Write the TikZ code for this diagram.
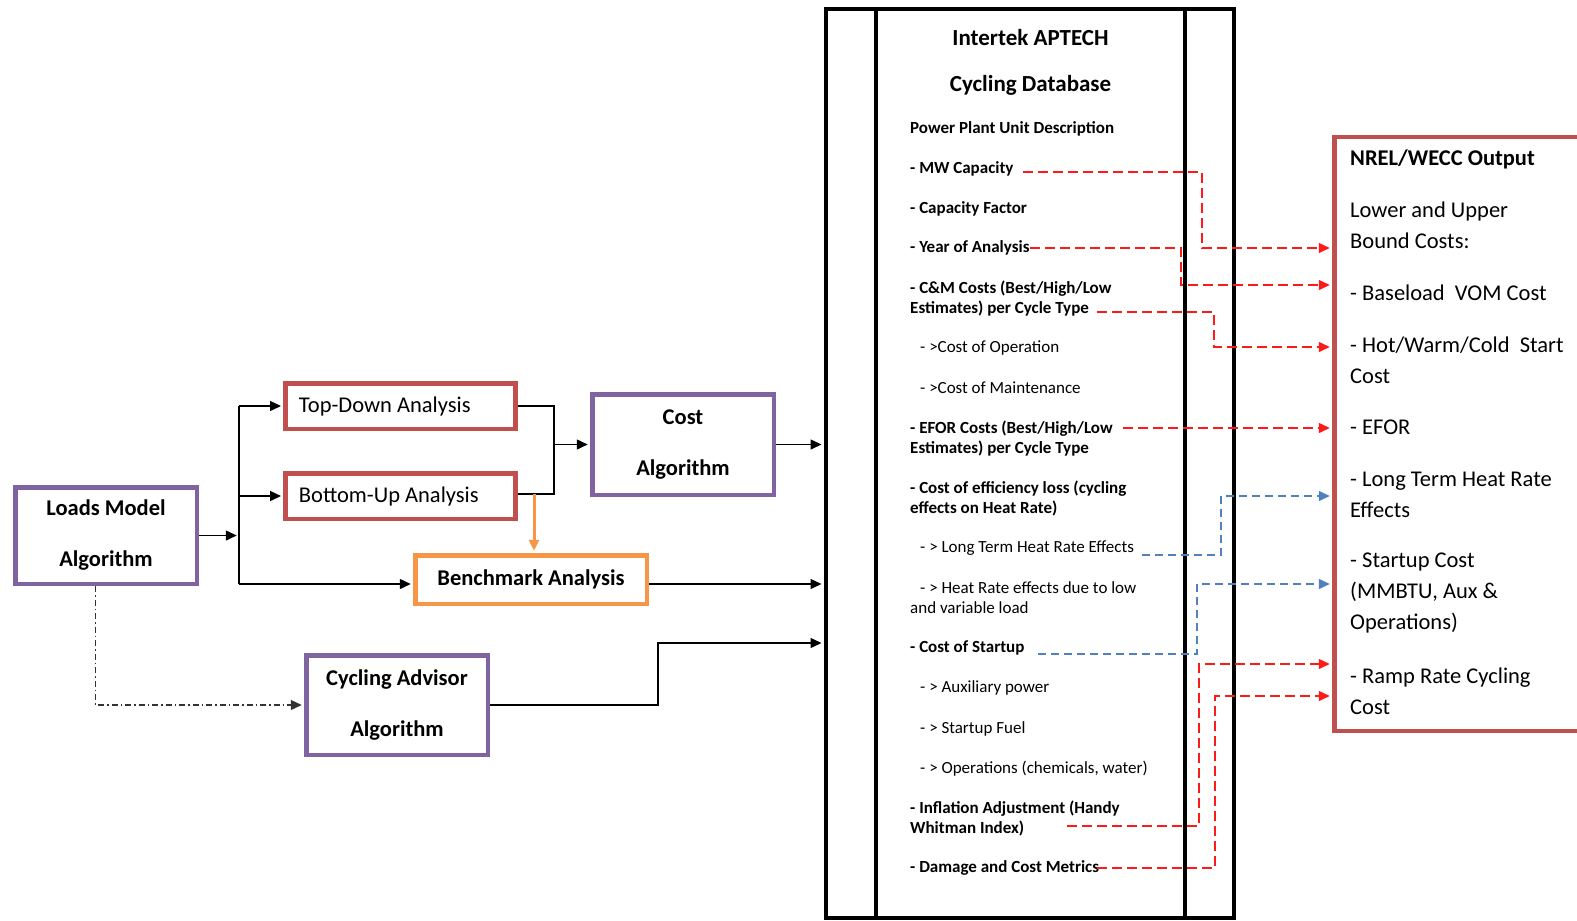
\documentclass[tikz,border=0pt]{standalone}
\usepackage{fontspec}
\setmainfont{Carlito}
\usetikzlibrary{arrows.meta,calc}
\definecolor{boxpurple}{HTML}{8064A2}
\definecolor{boxred}{HTML}{C0504D}
\definecolor{boxorange}{HTML}{F79646}
\definecolor{dashred}{HTML}{FF1A1A}
\definecolor{dashblue}{HTML}{4F81BD}
\tikzset{
  pbox/.style={draw=boxpurple, line width=4.5pt, inner sep=0pt, align=center, font=\fontsize{22.5pt}{51pt}\selectfont\bfseries},
  rbox/.style={draw=boxred, line width=4.5pt, inner sep=0pt},
  rtxt/.style={anchor=west, inner sep=0pt, font=\fontsize{22.5pt}{26pt}\selectfont},
  obox/.style={draw=boxorange, line width=4.5pt, inner sep=0pt, align=center, font=\fontsize{22.5pt}{26pt}\selectfont\bfseries},
  frame/.style={draw=black, line width=4.5pt, inner sep=0pt},
  dbtitle/.style={inner sep=0pt, font=\fontsize{23pt}{26pt}\selectfont\bfseries},
  dbbold/.style={anchor=west, inner sep=0pt, align=left, font=\fontsize{17pt}{20pt}\selectfont\bfseries},
  dbreg/.style={anchor=west, inner sep=0pt, align=left, font=\fontsize{17pt}{20pt}\selectfont},
  outtxt/.style={anchor=west, inner sep=0pt, align=left, font=\fontsize{22.5pt}{31pt}\selectfont},
  tip/.style={-{Triangle[length=11pt,width=10pt]}},
  conn/.style={draw=black, line width=1.4pt},
  conna/.style={conn, tip, shorten >=2.25pt},
  orangea/.style={draw=boxorange, line width=3pt, -{Triangle[length=11pt,width=10pt]}, shorten >=2.25pt},
  dashdota/.style={draw=black!80, line width=1.2pt, dash pattern=on 6pt off 3pt on 1.5pt off 3pt, tip, shorten >=2.25pt},
  reddash/.style={draw=dashred, line width=1.5pt, dash pattern=on 10pt off 5pt, tip, shorten >=2.25pt},
  bluedash/.style={draw=dashblue, line width=1.5pt, dash pattern=on 8pt off 5pt, tip, shorten >=2.25pt},
}
\begin{document}
\begin{tikzpicture}[x=1pt,y=-1pt]
\useasboundingbox (0,0) rectangle (1577,921);
\clip (0,0) rectangle (1577,921);
\fill[white] (0,0) rectangle (1577,921);

% left boxes
\node[pbox, minimum width=181.5pt, minimum height=96.5pt] (loads) at (106,535.5) {Loads Model\\Algorithm};
\node[rbox, minimum width=230pt, minimum height=45.5pt] (td) at (400.5,406) {};
\node[rtxt] (tdt) at ([xshift=15.5pt]td.west) {Top-Down Analysis};
\node[rbox, minimum width=230pt, minimum height=45.5pt] (bu) at (400.5,496) {};
\node[rtxt] (but) at ([xshift=15.5pt]bu.west) {Bottom-Up Analysis};
\node[pbox, minimum width=181.5pt, minimum height=100.5pt] (cost) at (683,444.5) {Cost\\Algorithm};
\node[obox, minimum width=231.5pt, minimum height=48.5pt] (bench) at (531,579.5) {Benchmark Analysis};
\node[pbox, minimum width=181.5pt, minimum height=99.5pt] (cyc) at (397,705) {Cycling Advisor\\Algorithm};

% database frame
\node[frame, minimum width=408pt, minimum height=909pt] (db) at (1030,463.5) {};
\node[frame, minimum width=309pt, minimum height=909pt] (dbin) at (1030.5,463.5) {};

% output box
\node[draw=boxred, line width=4.5pt, inner sep=0pt, minimum width=300pt, minimum height=594pt, anchor=north west] (out) at (1332,134.5) {};

% helper coordinates
\coordinate (busx) at (239,0);
\coordinate (mx) at (554,0);
\coordinate (ox) at (534,0);
\coordinate (bmin) at ([yshift=-4.5pt]bench.west);
\coordinate (bmout) at ([yshift=-4.5pt]bench.east);
\coordinate (cx) at (658,643);
\coordinate (ddx) at (95.5,0);

% left connectors
\draw[conna] (loads.east) -- (loads.east -| busx);
\draw[conn] (busx |- td.west) -- (busx |- bmin);
\draw[conna] (busx |- td.west) -- (td.west);
\draw[conna] (busx |- bu.west) -- (bu.west);
\draw[conna] (busx |- bmin) -- (bmin);
\draw[conn] (td.east) -- (td.east -| mx) -- ([yshift=2pt]bu.east -| mx) -- ([yshift=2pt]bu.east);
\draw[conna] (cost.west -| mx) -- (cost.west);
\draw[orangea] ([yshift=2pt]bu.east -| ox) -- (bench.north -| ox);
\draw[conna] (cost.east) -- (cost.east -| db.west);
\draw[conna] (bmout) -- (bmout -| db.west);
\draw[conna] (cyc.east) -| (cx) -- (cx -| db.west);
\draw[dashdota] (loads.south -| ddx) |- (cyc.west);

% database texts
\node[dbtitle] (t1) at (1030.5,38) {Intertek APTECH};
\node[dbtitle] (t2) at (1030.5,85) {Cycling Database};
\node[dbbold] (i0) at (910,129) {Power Plant Unit Description};
\node[dbbold] (i1) at (910,169) {- MW Capacity};
\node[dbbold] (i2) at (910,209) {- Capacity Factor};
\node[dbbold] (i3) at (910,248) {- Year of Analysis};
\node[dbbold] (i4) at (910,299) {- C\&M Costs (Best/High/Low\\Estimates) per Cycle Type};
\node[dbreg] (i5) at (920,348) {- >Cost of Operation};
\node[dbreg] (i6) at (920,388) {- >Cost of Maintenance};
\node[dbbold] (i7) at (910,438.5) {- EFOR Costs (Best/High/Low\\Estimates) per Cycle Type};
\node[dbbold] (i8) at (910,498.5) {- Cost of efficiency loss (cycling\\effects on Heat Rate)};
\node[dbreg] (i9) at (920,548) {- > Long Term Heat Rate Effects};
\node[dbreg] (i10) at (920,588) {- > Heat Rate effects due to low};
\node[dbreg] (i10b) at (910,608) {and variable load};
\node[dbbold] (i11) at (910,648) {- Cost of Startup};
\node[dbreg] (i12) at (920,688) {- > Auxiliary power};
\node[dbreg] (i13) at (920,729) {- > Startup Fuel};
\node[dbreg] (i14) at (920,769) {- > Operations (chemicals, water)};
\node[dbbold] (i15) at (910,818) {- Inflation Adjustment (Handy\\Whitman Index)};
\node[dbbold] (i16) at (910,868) {- Damage and Cost Metrics};

% output texts
\node[outtxt, font=\fontsize{22.5pt}{31pt}\selectfont\bfseries] (o0) at (1350,159) {NREL/WECC Output};
\node[outtxt] (o1) at (1350,225.5) {Lower and Upper\\Bound Costs:};
\node[outtxt] (o2) at (1350,293) {- Baseload\ \ VOM Cost};
\node[outtxt] (o3) at (1350,360.5) {- Hot/Warm/Cold\ \ Start\\Cost};
\node[outtxt] (o4) at (1350,427) {- EFOR};
\node[outtxt] (o5) at (1350,494.5) {- Long Term Heat Rate\\Effects};
\node[outtxt] (o6) at (1350,593.5) {- Startup Cost\\(MMBTU, Aux \&\\Operations)};
\node[outtxt] (o7) at (1350,691.5) {- Ramp Rate Cycling\\Cost};

% dashed connectors
\coordinate (r1s) at (1023,172);   \coordinate (r1c) at (1202,248);
\coordinate (r2s) at (1030,248);   \coordinate (r2c) at (1181,285);
\coordinate (r3s) at (1097,312);   \coordinate (r3c) at (1214,347);
\coordinate (r4s) at (1123,428);
\coordinate (b1s) at (1142,555);   \coordinate (b1c) at (1221,496);
\coordinate (b2s) at (1038,654);   \coordinate (b2c) at (1197,584);
\coordinate (r5s) at (1067,826);   \coordinate (r5c) at (1199,664);
\coordinate (r6s) at (1097,868);   \coordinate (r6c) at (1215,696);
\draw[reddash] (r1s) -| (r1c) -- (r1c -| out.west);
\draw[reddash] (r2s) -| (r2c) -- (r2c -| out.west);
\draw[reddash] (r3s) -| (r3c) -- (r3c -| out.west);
\draw[reddash] (r4s) -- (r4s -| out.west);
\draw[bluedash] (b1s) -| (b1c) -- (b1c -| out.west);
\draw[bluedash] (b2s) -| (b2c) -- (b2c -| out.west);
\draw[reddash] (r5s) -| (r5c) -- (r5c -| out.west);
\draw[reddash] (r6s) -| (r6c) -- (r6c -| out.west);
\end{tikzpicture}
\end{document}
